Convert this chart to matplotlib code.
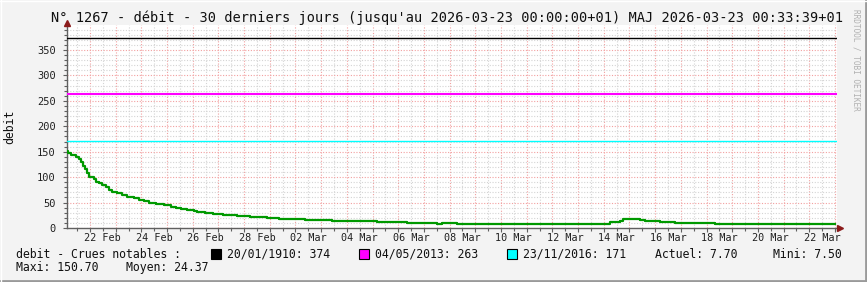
import pandas as pd
import matplotlib
matplotlib.use("Agg")
import matplotlib.pyplot as plt
import matplotlib.dates as mdates
from matplotlib.patches import Rectangle
from matplotlib.lines import Line2D

# Data (days since 2026-02-21 00:00, debit values, step series)
start = pd.Timestamp("2026-02-21 00:00")
days = [0.10, 0.15, 0.25, 0.44, 0.57, 0.64, 0.73, 0.79, 0.87, 0.98,
        1.16, 1.22, 1.35, 1.48, 1.61, 1.74, 1.87, 2.06, 2.26, 2.45,
        2.71, 2.91, 3.10, 3.30, 3.56, 3.88, 4.14, 4.34, 4.53, 4.79,
        5.05, 5.17, 5.48, 5.78, 6.18, 6.71, 7.23, 7.88, 8.37, 9.37,
        10.41, 12.16, 13.33, 14.51, 14.69, 15.27, 17.35, 17.69, 18.26, 18.88,
        20.37, 20.85, 21.24, 21.63, 21.75, 22.41, 22.61, 23.19, 23.77, 25.33,
        27.00, 27.59, 28.25, 30.00]
debit = [150.7, 147, 143.5, 139, 135.6, 130, 122, 115, 109, 101,
         96, 91, 88, 84.5, 80, 75, 71, 68, 65, 61.5,
         58, 55, 53, 50, 47, 44.6, 42, 40, 37, 35.4,
         33.4, 31.5, 29.5, 27.5, 26, 24.2, 22.3, 20.3, 17.7, 16,
         14, 12, 10, 7.9, 10, 8.7, 7.5, 8.7, 7.5, 8.7,
         7.2, 8.5, 11.8, 14.4, 18.5, 16.4, 14.4, 12.4, 10.4, 8.5,
         7.2, 8.5, 7.7, 7.7]

# notable floods
crue_dates = ["20/01/1910", "04/05/2013", "23/11/2016"]
crue_values = [374, 263, 171]
crue_colors = ["#000000", "#ff00ff", "#00ffff"]
crue_lw = [1.0, 1.5, 1.0]

y_ticks = [0, 50, 100, 150, 200, 250, 300, 350]

actuel = 7.70
mini = 7.50
maxi = 150.70
moyen = 24.37

title = ("N° 1267 - débit - 30 derniers jours (jusqu'au 2026-03-23 00:00:00+01) "
         "MAJ 2026-03-23 00:33:39+01")

W, H = 867, 282
mono = "DejaVu Sans Mono"
plt.rcParams["font.family"] = mono

fig = plt.figure(figsize=(W / 100, H / 100), dpi=100)
fig.patch.set_facecolor("#f3f3f3")


def px(x, y):
    return x / W, (H - y) / H


# plot area in pixels: x 67..837, y 25..228
ax = fig.add_axes([67 / W, (H - 228) / H, 770 / W, 203 / H])
ax.set_facecolor("white")

times = start + pd.to_timedelta(days, unit="D")
t0 = start + pd.Timedelta(days=0.105)
t1 = start + pd.Timedelta(days=30.08)
ax.set_xlim(t0, t1)
ax.set_ylim(0, 399)

# grid
ax.xaxis.set_major_locator(mdates.HourLocator(byhour=[0]))
ax.xaxis.set_minor_locator(mdates.HourLocator(byhour=[12]))
ax.xaxis.set_major_formatter(plt.NullFormatter())
ax.set_yticks(y_ticks)
ax.yaxis.set_minor_locator(plt.MultipleLocator(10))
ax.grid(which="minor", color="#d4d4d4", linestyle=(0, (1, 1.5)), linewidth=0.8)
ax.grid(which="major", color="#f2a0a0", linestyle=(0, (1, 1.5)), linewidth=0.8)
ax.set_axisbelow(True)

ax.tick_params(axis="both", which="both", direction="out", color="#606060",
               width=0.8, labelsize=7.5, labelcolor="#202020")
ax.tick_params(axis="y", which="major", length=3, pad=5)
ax.tick_params(axis="y", which="minor", length=2)
ax.tick_params(axis="x", which="major", length=3)
ax.tick_params(axis="x", which="minor", length=2)

for s in ["top", "right"]:
    ax.spines[s].set_visible(False)
for s in ["left", "bottom"]:
    ax.spines[s].set_color("#606060")
    ax.spines[s].set_linewidth(1.0)

# x labels every 2 days, centred on noon
label_days = pd.date_range("2026-02-22", "2026-03-22", freq="2D")
for d in label_days:
    ax.annotate(d.strftime("%d %b"), xy=(d + pd.Timedelta(hours=12), 0),
                xycoords=("data", "axes fraction"), xytext=(0, -10),
                textcoords="offset pixels", ha="center", va="center",
                fontsize=7.3, color="#202020")

# notable flood lines
for v, c, lw in zip(crue_values, crue_colors, crue_lw):
    ax.axhline(v, color=c, linewidth=lw, zorder=3)

# debit curve
ax.step(times, debit, where="post", color="#009900", linewidth=1.6, zorder=4)

# axis arrows
ax.plot([0], [1.01], marker="^", color="#8b1a1a", markersize=4,
        transform=ax.transAxes, clip_on=False, zorder=6)
ax.plot([1.004], [0], marker=">", color="#8b1a1a", markersize=4,
        transform=ax.transAxes, clip_on=False, zorder=6)
ax.add_line(Line2D([1.0, 1.004], [0, 0], color="#606060", lw=1.0,
                   transform=ax.transAxes, clip_on=False))
ax.add_line(Line2D([0, 0], [1.0, 1.01], color="#606060", lw=1.0,
                   transform=ax.transAxes, clip_on=False))

# y label
fig.text(*px(10, 127), "debit", rotation=90, ha="center", va="center",
         fontsize=8.3, color="#101010")

# title
fig.text(*px(447, 18), title, ha="center", va="center",
         fontsize=9.85, color="#101010")

# side credit
fig.text(*px(856, 60), "RRDTOOL / TOBI OETIKER", rotation=270,
         ha="center", va="center", fontsize=5.6, color="#b0b0b0")

# legend
fs = 8.3
fig.text(*px(16, 254), "debit - Crues notables :", ha="left", va="center",
         fontsize=fs, color="#101010")
sq_x = [211, 359, 507]
for x, d, v, c in zip(sq_x, crue_dates, crue_values, crue_colors):
    fig.patches.append(Rectangle(px(x, 258.7), 9.5 / W, 9.5 / H,
                                 transform=fig.transFigure, facecolor=c,
                                 edgecolor="#000000", linewidth=0.8))
    fig.text(*px(x + 16, 254), f"{d}: {v}", ha="left", va="center",
             fontsize=fs, color="#101010")
fig.text(*px(655, 254), f"Actuel: {actuel:.2f}", ha="left", va="center",
         fontsize=fs, color="#101010")
fig.text(*px(773, 254), f"Mini: {mini:.2f}", ha="left", va="center",
         fontsize=fs, color="#101010")
fig.text(*px(16, 268), f"Maxi: {maxi:.2f}    Moyen: {moyen:.2f}", ha="left",
         va="center", fontsize=fs, color="#101010")

# frame shading
fig.add_artist(Line2D([0, 1], [1 / H, 1 / H], color="#9a9a9a", lw=2,
                      transform=fig.transFigure))
fig.add_artist(Line2D([1 - 1 / W, 1 - 1 / W], [0, 1], color="#9a9a9a", lw=2,
                      transform=fig.transFigure))
fig.add_artist(Line2D([0, 1], [1 - 0.5 / H, 1 - 0.5 / H], color="#ffffff", lw=1,
                      transform=fig.transFigure))
fig.add_artist(Line2D([0.5 / W, 0.5 / W], [0, 1], color="#ffffff", lw=1,
                      transform=fig.transFigure))

fig.savefig("out.png", dpi=100, facecolor=fig.get_facecolor())
